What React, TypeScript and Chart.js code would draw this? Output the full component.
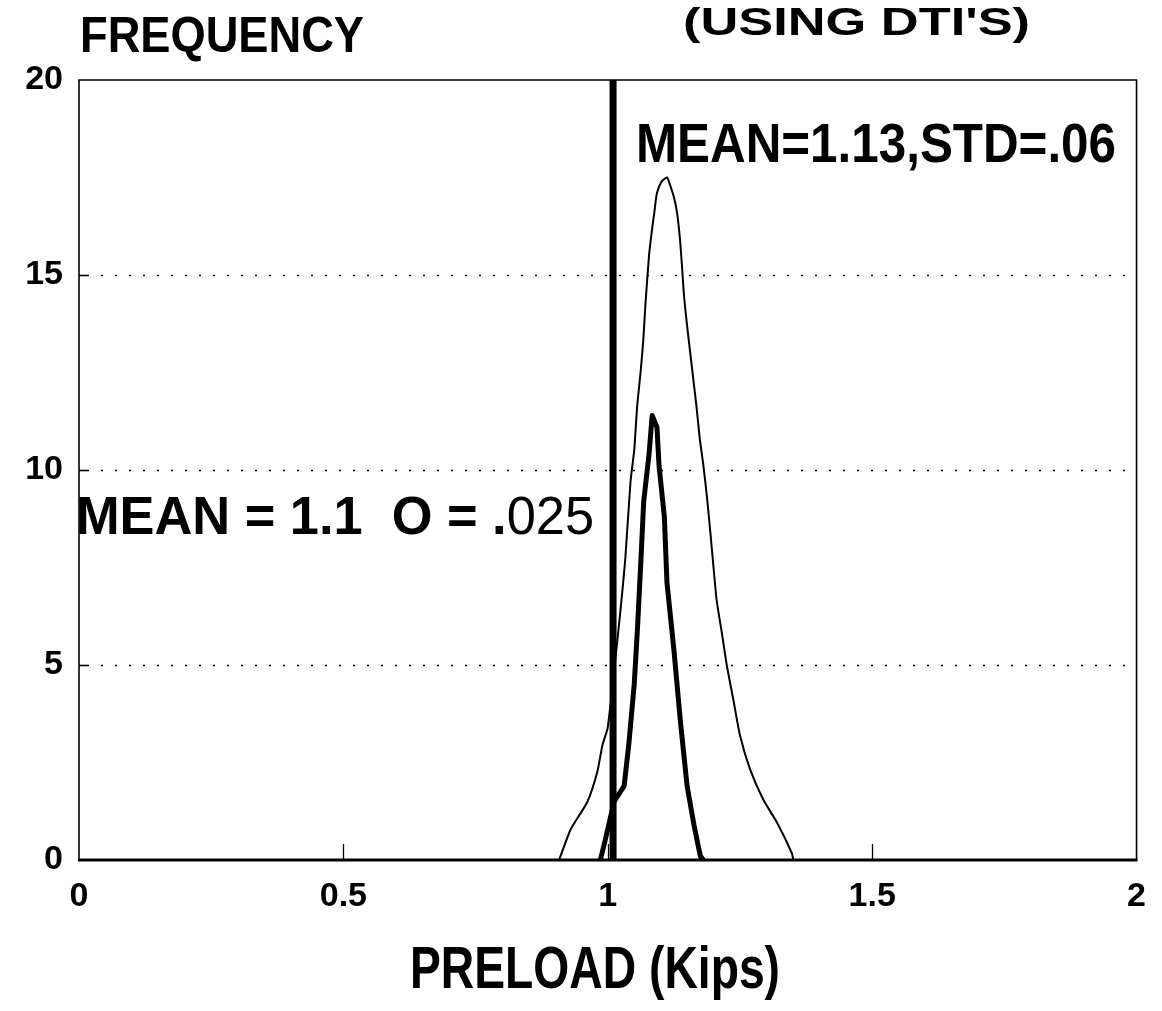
import React, { useEffect, useRef } from "react";
import { Chart, registerables } from "chart.js";

Chart.register(...registerables);

// ---- data ----
const xTickValues = [0, 0.5, 1, 1.5, 2];
const yTickValues = [0, 5, 10, 15, 20];

// wide distribution (thin line): MEAN=1.13, STD=.06
const wideX = [0.908, 0.930, 0.961, 0.980, 0.990, 1.0, 1.024, 1.033, 1.043, 1.050, 1.052, 1.056, 1.062, 1.067, 1.071, 1.078, 1.084, 1.088, 1.093, 1.102, 1.112, 1.118, 1.125, 1.131, 1.136, 1.140, 1.144, 1.150, 1.156, 1.162, 1.168, 1.174, 1.181, 1.188, 1.194, 1.200, 1.206, 1.216, 1.225, 1.238, 1.250, 1.269, 1.294, 1.320, 1.348, 1.351];
const wideY = [0, 0.79, 1.48, 2.25, 2.95, 3.4, 6.4, 7.7, 9.7, 10.5, 10.9, 11.7, 12.5, 13.3, 14.2, 15.5, 16.2, 16.6, 17.1, 17.4, 17.5, 17.3, 17.0, 16.6, 16.0, 15.3, 14.5, 13.7, 13.0, 12.3, 11.6, 10.8, 10.1, 9.25, 8.4, 7.5, 6.65, 5.8, 5.0, 4.07, 3.2, 2.33, 1.55, 0.96, 0.18, 0];

// narrow distribution (thick line): MEAN = 1.1, sigma = .025
const narrowX = [0.986, 0.995, 1.012, 1.031, 1.040, 1.050, 1.056, 1.062, 1.068, 1.078, 1.084, 1.093, 1.097, 1.107, 1.112, 1.125, 1.137, 1.150, 1.163, 1.175, 1.181];
const narrowY = [0, 0.5, 1.5, 1.9, 3.0, 4.5, 5.9, 7.5, 9.2, 10.4, 11.4, 11.1, 10.1, 8.8, 7.1, 5.4, 3.6, 1.9, 0.9, 0.1, 0];

// vertical limit line
const limitX = [1.01, 1.01];
const limitY = [0, 20];

const gridValues = [5, 10, 15];
const xMarkValues = [0.5, 1, 1.5];

const yTitle = "FREQUENCY";
const topTitle = "(USING DTI'S)";
const xTitle = "PRELOAD (Kips)";
const wideLabel = "MEAN=1.13,STD=.06";
const narrowLabelA = "MEAN = 1.1  O = .";
const narrowLabelB = "025";

const FONT = '"Liberation Sans", Arial, sans-serif';

function zip(xs: number[], ys: number[]) {
  return xs.map((x, i) => ({ x, y: ys[i] }));
}

function fitText(
  ctx: CanvasRenderingContext2D,
  parts: { text: string; weight: string }[],
  left: number,
  right: number,
  capTop: number,
  capBottom: number
) {
  const size = (capBottom - capTop) / 0.716;
  let total = 0;
  const widths: number[] = [];
  for (const p of parts) {
    ctx.font = `${p.weight} ${size}px ${FONT}`;
    const w = ctx.measureText(p.text).width;
    widths.push(w);
    total += w;
  }
  const sx = (right - left) / total;
  ctx.save();
  ctx.translate(left, capBottom);
  ctx.scale(sx, 1);
  ctx.fillStyle = "#000";
  ctx.textBaseline = "alphabetic";
  ctx.textAlign = "left";
  let x = 0;
  parts.forEach((p, i) => {
    ctx.font = `${p.weight} ${size}px ${FONT}`;
    ctx.fillText(p.text, x, 0);
    x += widths[i];
  });
  ctx.restore();
}

const framePlugin = {
  id: "frame",
  beforeDatasetsDraw(chart: any) {
    const { ctx, chartArea, scales } = chart;
    const { left, right, top, bottom } = chartArea;
    ctx.save();
    ctx.strokeStyle = "#000";
    // dotted gridlines
    ctx.lineWidth = 1.6;
    ctx.setLineDash([2, 12]);
    for (const v of gridValues) {
      const y = Math.round(scales.y.getPixelForValue(v)) + 0.5;
      ctx.beginPath();
      ctx.moveTo(left + 8, y);
      ctx.lineTo(right, y);
      ctx.stroke();
    }
    ctx.setLineDash([]);
    // short solid tick marks on left axis
    for (const v of gridValues) {
      const y = Math.round(scales.y.getPixelForValue(v)) + 0.5;
      ctx.beginPath();
      ctx.moveTo(left, y);
      ctx.lineTo(left + 8, y);
      ctx.stroke();
    }
    // tick marks on bottom axis
    ctx.lineWidth = 1.3;
    for (const v of xMarkValues) {
      const x = Math.round(scales.x.getPixelForValue(v)) + 0.5;
      ctx.beginPath();
      ctx.moveTo(x, bottom);
      ctx.lineTo(x, bottom - 16);
      ctx.stroke();
    }
    // frame
    ctx.lineWidth = 1.6;
    ctx.beginPath();
    ctx.moveTo(left, bottom);
    ctx.lineTo(left, top);
    ctx.lineTo(right, top);
    ctx.lineTo(right, bottom);
    ctx.stroke();
    ctx.lineWidth = 3;
    ctx.beginPath();
    ctx.moveTo(left - 1, bottom);
    ctx.lineTo(right + 1, bottom);
    ctx.stroke();
    ctx.restore();
  },
  afterDraw(chart: any) {
    const { ctx } = chart;
    fitText(ctx, [{ text: yTitle, weight: "bold" }], 80, 364, 16, 52);
    fitText(ctx, [{ text: topTitle, weight: "bold" }], 683, 1030, 7, 35);
    fitText(ctx, [{ text: wideLabel, weight: "bold" }], 636, 1116, 122, 162);
    fitText(
      ctx,
      [
        { text: narrowLabelA, weight: "bold" },
        { text: narrowLabelB, weight: "normal" },
      ],
      76,
      594,
      495,
      534
    );
    fitText(ctx, [{ text: xTitle, weight: "bold" }], 410, 780, 945, 988);
  },
};

export default function App() {
  const canvasRef = useRef<HTMLCanvasElement | null>(null);

  useEffect(() => {
    const canvas = canvasRef.current;
    if (!canvas) return;
    const chart = new Chart(canvas, {
      type: "line",
      data: {
        datasets: [
          {
            label: "Limit",
            data: zip(limitX, limitY),
            borderColor: "#000",
            borderWidth: 7,
            pointRadius: 0,
            tension: 0,
            borderCapStyle: "butt",
          },
          {
            label: "Wide",
            data: zip(wideX, wideY),
            borderColor: "#000",
            borderWidth: 2,
            pointRadius: 0,
            tension: 0.2,
          },
          {
            label: "Narrow",
            data: zip(narrowX, narrowY),
            borderColor: "#000",
            borderWidth: 5,
            pointRadius: 0,
            tension: 0,
            borderJoinStyle: "round",
          },
        ],
      },
      options: {
        animation: false,
        responsive: false,
        maintainAspectRatio: false,
        events: [],
        layout: { padding: { left: 0, right: 21, top: 80, bottom: 0 } },
        plugins: {
          legend: { display: false },
          tooltip: { enabled: false },
          title: { display: false },
        },
        scales: {
          x: {
            type: "linear",
            min: 0,
            max: 2,
            afterFit: (scale: any) => {
              scale.height = 151;
            },
            afterBuildTicks: (scale: any) => {
              scale.ticks = xTickValues.map((v) => ({ value: v }));
            },
            ticks: {
              color: "#000",
              font: { family: FONT, size: 34, weight: "bold" },
              padding: 16,
              maxRotation: 0,
              autoSkip: false,
              callback: (v: any) => String(v),
            },
            grid: { display: false, drawTicks: false },
            border: { display: false },
          },
          y: {
            type: "linear",
            min: 0,
            max: 20,
            afterFit: (scale: any) => {
              scale.width = 79;
            },
            afterBuildTicks: (scale: any) => {
              scale.ticks = yTickValues.map((v) => ({ value: v }));
            },
            ticks: {
              color: "#000",
              font: { family: FONT, size: 34, weight: "bold" },
              padding: 16,
              autoSkip: false,
              callback: (v: any) => String(v),
            },
            grid: { display: false, drawTicks: false },
            border: { display: false },
          },
        },
      },
      plugins: [framePlugin],
    } as any);
    return () => chart.destroy();
  }, []);

  return (
    <div style={{ position: "absolute", left: 0, top: 0, width: 1162, height: 1011, background: "#fff" }}>
      <canvas ref={canvasRef} width={1162} height={1011} style={{ display: "block", width: 1162, height: 1011 }} />
    </div>
  );
}
